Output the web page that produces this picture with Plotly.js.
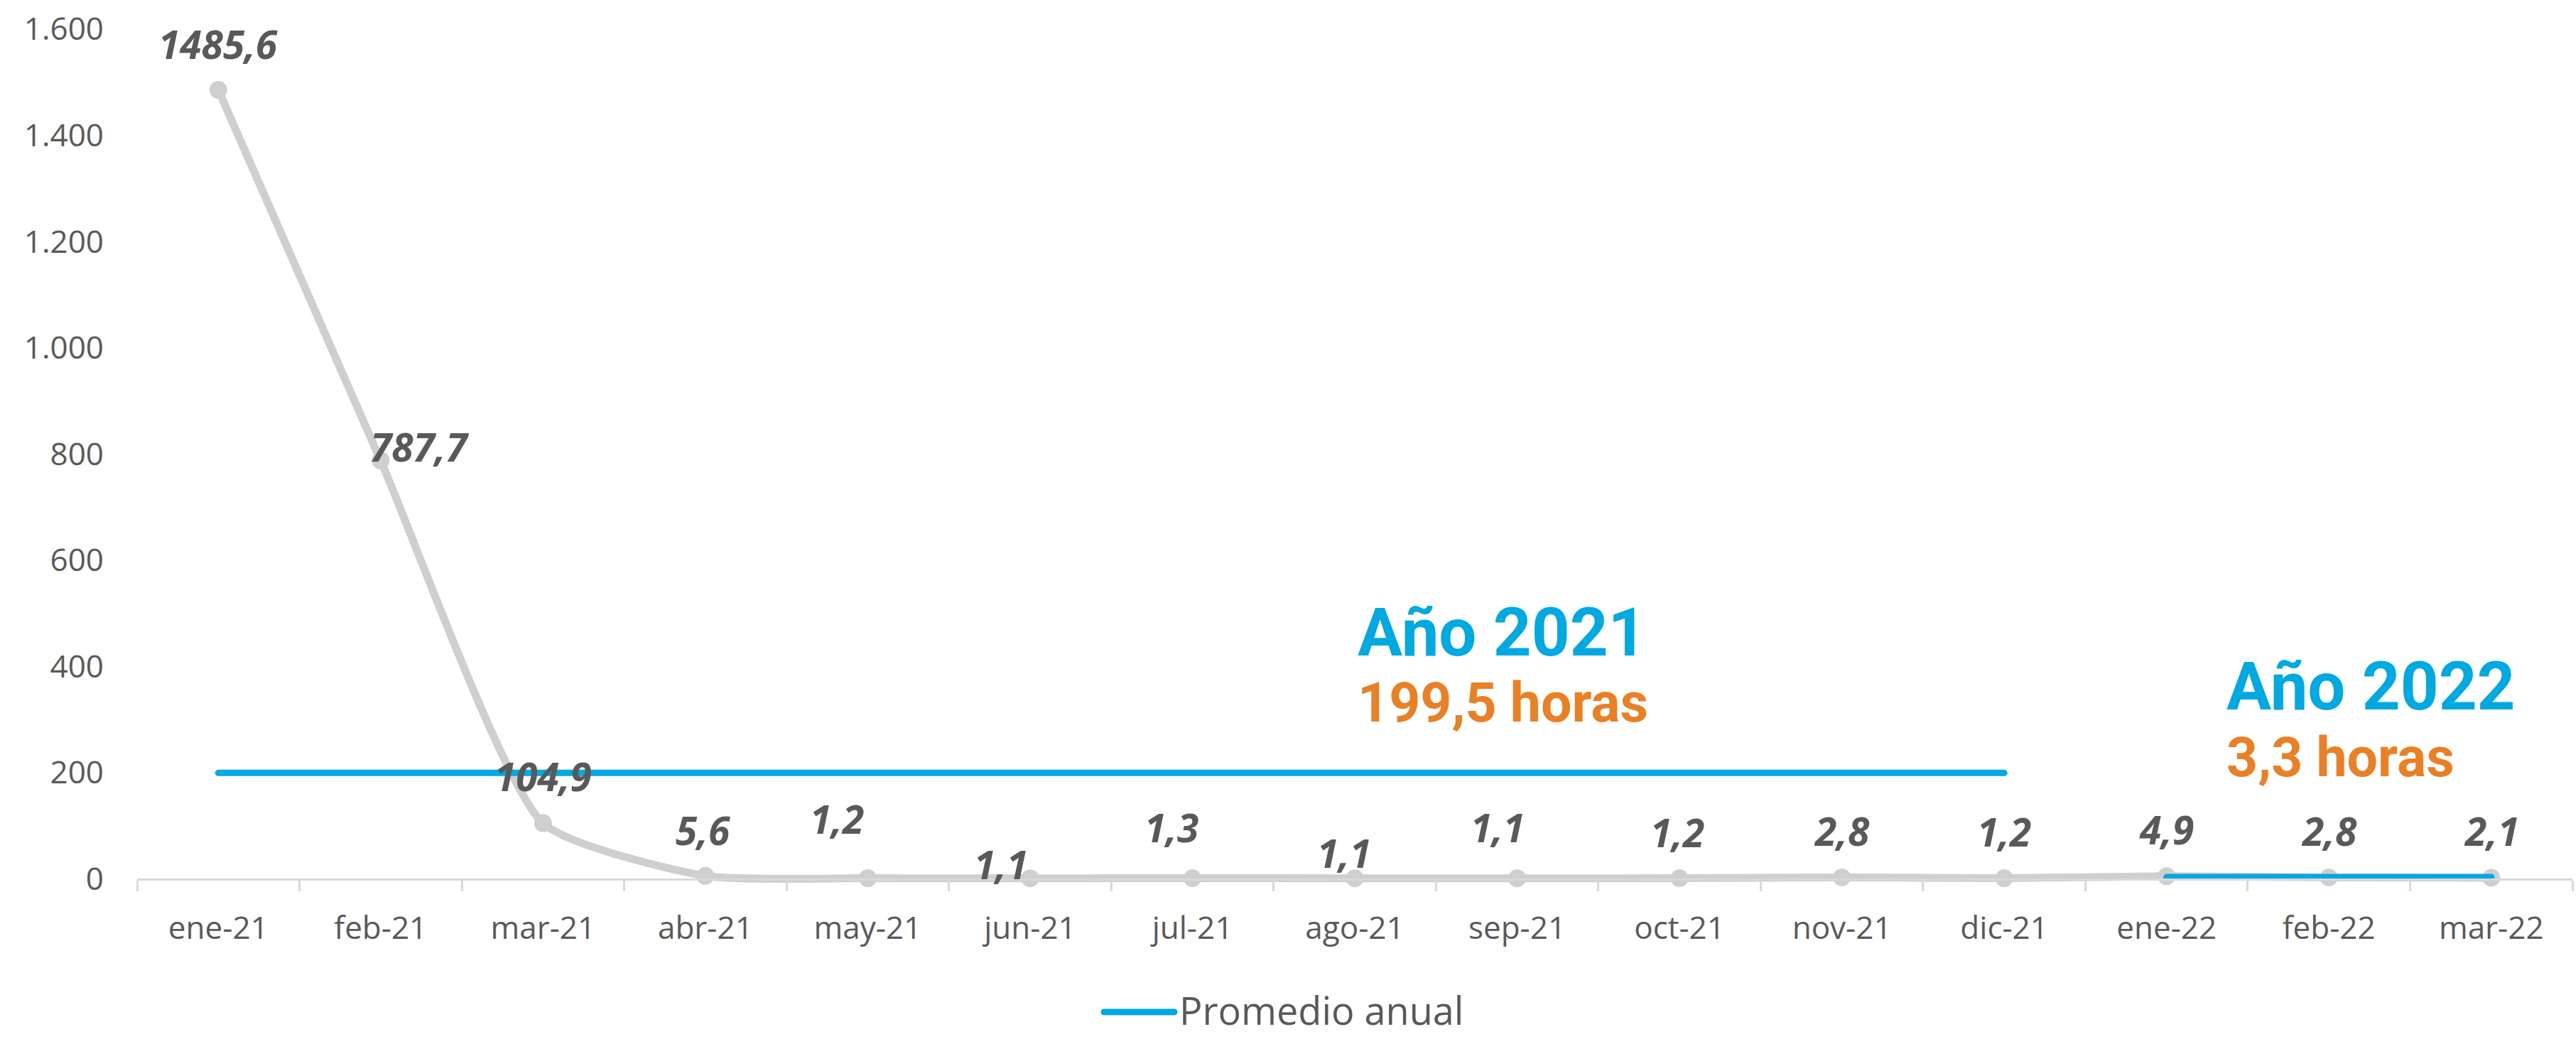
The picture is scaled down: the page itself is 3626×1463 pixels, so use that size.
<!DOCTYPE html>
<html>
<head>
<meta charset="utf-8">
<script src="https://cdn.plot.ly/plotly-3.0.1.min.js"></script>
<style>
  html, body { margin: 0; padding: 0; background: #ffffff; }
  #chart { width: 3626px; height: 1463px; }
  .scatterlayer .js-line, .shapelayer path { stroke-linecap: round; }
</style>
</head>
<body>
<div id="chart"></div>
<script>
// ---- data ----
const months = ['ene-21','feb-21','mar-21','abr-21','may-21','jun-21','jul-21','ago-21','sep-21','oct-21','nov-21','dic-21','ene-22','feb-22','mar-22'];
const horas = [1485.6, 787.7, 104.9, 5.6, 1.2, 1.1, 1.3, 1.1, 1.1, 1.2, 2.8, 1.2, 4.9, 2.8, 2.1];

const months2021 = ['ene-21','feb-21','mar-21','abr-21','may-21','jun-21','jul-21','ago-21','sep-21','oct-21','nov-21','dic-21'];
const promedio2021 = [199.5, 199.5, 199.5, 199.5, 199.5, 199.5, 199.5, 199.5, 199.5, 199.5, 199.5, 199.5];
const months2022 = ['ene-22','feb-22','mar-22'];
const promedio2022 = [3.3, 3.3, 3.3];

const yTickVals = [0, 200, 400, 600, 800, 1000, 1200, 1400, 1600];
const yTickText = ['0', '200', '400', '600', '800', '1.000', '1.200', '1.400', '1.600'];

const legendName = 'Promedio anual';
const yearLabels = ['Año 2021', 'Año 2022'];

// ---- label placement (pixel offsets, style only) ----
const labelDX = [0, 55, 0, -3, -43, -41, -29, -15, -28, -3, 0, 0, 0, 0, 0];
const labelDY = [65, 20, 67, 65, 84, 20, 72, 36, 72, 65, 66, 66, 66, 66, 66];

const fmt = v => v.toFixed(1).replace('.', ',');

const GRAY = '#D0CECE';
const BLUE = '#00A9E0';
const ORANGE = '#E98025';
const TXT = '#595959';

const traces = [
  {
    x: months, y: horas, type: 'scatter', mode: 'lines+markers',
    line: { color: GRAY, width: 11, shape: 'spline', smoothing: 0.55 },
    marker: { color: GRAY, size: 25 },
    showlegend: false, hoverinfo: 'skip', cliponaxis: false
  },
  {
    x: months2021, y: promedio2021, type: 'scatter', mode: 'lines',
    line: { color: BLUE, width: 9 },
    name: legendName, legendgroup: 'prom', showlegend: false, hoverinfo: 'skip'
  },
  {
    x: months2022, y: promedio2022, type: 'scatter', mode: 'lines',
    line: { color: BLUE, width: 9 },
    name: legendName, legendgroup: 'prom', showlegend: false, hoverinfo: 'skip'
  }
];

const annotations = horas.map((v, i) => ({
  x: months[i], y: v, xref: 'x', yref: 'y',
  text: fmt(v), showarrow: false,
  xanchor: 'center', yanchor: 'middle',
  xshift: labelDX[i], yshift: labelDY[i],
  font: { family: 'Open Sans, Noto Sans, sans-serif', size: 55, color: TXT, weight: 'bold', style: 'italic' }
}));

const bigFont = { family: 'Roboto, Inter, sans-serif', size: 94, color: BLUE, weight: 'bold' };
const subFont = { family: 'Roboto, Inter, sans-serif', size: 77, color: ORANGE, weight: 'bold' };

annotations.push(
  { x: 7.01, y: 463, xref: 'x', yref: 'y', text: yearLabels[0], showarrow: false, xanchor: 'left', yanchor: 'middle', height: 84, font: bigFont },
  { x: 7.01, y: 331, xref: 'x', yref: 'y', text: fmt(promedio2021[0]) + ' horas', showarrow: false, xanchor: 'left', yanchor: 'middle', height: 80, font: subFont },
  { x: 12.36, y: 362, xref: 'x', yref: 'y', text: yearLabels[1], showarrow: false, xanchor: 'left', yanchor: 'middle', height: 84, font: bigFont },
  { x: 12.36, y: 228, xref: 'x', yref: 'y', text: fmt(promedio2022[0]) + ' horas', showarrow: false, xanchor: 'left', yanchor: 'middle', height: 80, font: subFont }
);

// legend key for "Promedio anual" (drawn below the plot, centred like the reference)
annotations.push({
  x: 0.4274, y: -0.1466, xref: 'paper', yref: 'paper', text: legendName, showarrow: false,
  xanchor: 'left', yanchor: 'middle',
  font: { family: 'Open Sans, Noto Sans, sans-serif', size: 54, color: TXT }
});
const shapes = [{
  type: 'line', xref: 'paper', yref: 'paper',
  x0: 0.397, x1: 0.4259, y0: -0.1495, y1: -0.1495,
  line: { color: BLUE, width: 9 }
}];

const layout = {
  width: 3626, height: 1463,
  margin: { l: 193, r: 5, t: 41, b: 218, pad: 0, autoexpand: false },
  paper_bgcolor: '#ffffff', plot_bgcolor: '#ffffff',
  separators: ',.',
  showlegend: false,
  xaxis: {
    type: 'category', range: [-0.5, 14.5],
    anchor: 'free', position: 10 / 1610,
    showline: true, linecolor: '#D9D9D9', linewidth: 3,
    ticks: 'outside', ticklen: 15, tickwidth: 3, tickcolor: '#D9D9D9', tickson: 'boundaries',
    showgrid: false, zeroline: false, automargin: false,
    tickfont: { family: 'Open Sans, Noto Sans, sans-serif', size: 44, color: TXT },
    ticklabelstandoff: 30, fixedrange: true
  },
  yaxis: {
    range: [-10, 1600],
    tickvals: yTickVals, ticktext: yTickText,
    showline: false, showgrid: false, zeroline: false, ticks: '', automargin: false,
    tickfont: { family: 'Open Sans, Noto Sans, sans-serif', size: 44, color: TXT },
    ticklabelstandoff: 46, fixedrange: true
  },
  shapes: shapes,
  annotations: annotations
};

Plotly.newPlot('chart', traces, layout, { displayModeBar: false, staticPlot: true });
</script>
</body>
</html>
